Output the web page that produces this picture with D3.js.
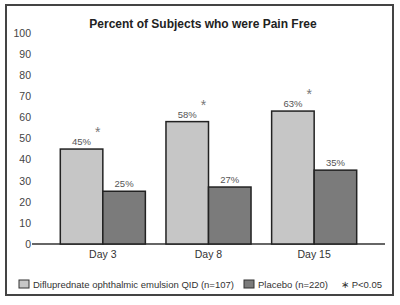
<!DOCTYPE html>
<html>
<head>
<meta charset="utf-8">
<script src="https://cdn.jsdelivr.net/npm/d3@7"></script>
<style>
  body { margin: 0; background: #fff; }
  text { font-family: "Liberation Sans", Arial, sans-serif; }
</style>
</head>
<body>
<div id="chart"></div>
<script>
// chart data
var days = ["Day 3", "Day 8", "Day 15"];
var seriesNames = ["Difluprednate ophthalmic emulsion QID (n=107)", "Placebo (n=220)"];
var drugValues = [45, 58, 63];
var placeboValues = [25, 27, 35];
var significant = [true, true, true];
var yTicks = [0, 10, 20, 30, 40, 50, 60, 70, 80, 90, 100];
var colors = ["#c6c6c6", "#7b7b7b"];

var width = 400, height = 305;

var svg = d3.select("#chart").append("svg")
    .attr("width", width)
    .attr("height", height);

// outer frame
svg.append("rect")
    .attr("x", 6)
    .attr("y", 5)
    .attr("width", 387)
    .attr("height", 290)
    .attr("fill", "#fff")
    .attr("stroke", "#444")
    .attr("stroke-width", 2);

// title
svg.append("text")
    .attr("x", 203)
    .attr("y", 28)
    .attr("text-anchor", "middle")
    .style("font-size", "12px")
    .style("font-weight", "bold")
    .attr("fill", "#222")
    .text("Percent of Subjects who were Pain Free");

// scales
var x0 = d3.scaleBand()
    .domain(days)
    .range([50, 367])
    .paddingInner(0.195)
    .paddingOuter(0.0975);

var x1 = d3.scaleBand()
    .domain([0, 1])
    .range([0, x0.bandwidth()]);

var y = d3.scaleLinear()
    .domain([0, 100])
    .range([244, 33]);

// y axis labels (no axis line)
var yAxis = svg.append("g")
    .attr("transform", "translate(32,0)")
    .call(d3.axisLeft(y).tickValues(yTicks).tickSize(0).tickPadding(1));
yAxis.select(".domain").remove();
yAxis.selectAll("text")
    .style("font-size", "10.5px")
    .attr("fill", "#444");

// baseline
svg.append("line")
    .attr("x1", 32)
    .attr("x2", 385)
    .attr("y1", y(0))
    .attr("y2", y(0))
    .attr("stroke", "#333")
    .attr("stroke-width", 1.3);

// bars
var groups = svg.selectAll("g.group")
    .data(days)
    .enter().append("g")
    .attr("class", "group")
    .attr("transform", function(d) { return "translate(" + x0(d) + ",0)"; });

groups.each(function(d, i) {
    var g = d3.select(this);
    var vals = [drugValues[i], placeboValues[i]];
    vals.forEach(function(v, j) {
        g.append("rect")
            .attr("x", x1(j))
            .attr("y", y(v))
            .attr("width", x1.bandwidth())
            .attr("height", y(0) - y(v))
            .attr("fill", colors[j])
            .attr("stroke", "#222")
            .attr("stroke-width", 1.5);
        g.append("text")
            .attr("x", x1(j) + x1.bandwidth() / 2)
            .attr("y", y(v) - 4)
            .attr("text-anchor", "middle")
            .style("font-size", "9.5px")
            .attr("fill", "#555")
            .text(v + "%");
    });
    if (significant[i]) {
        g.append("text")
            .attr("x", x0.bandwidth() / 2 - 5)
            .attr("y", y(drugValues[i]) - 12)
            .attr("text-anchor", "middle")
            .style("font-size", "14px")
            .attr("fill", "#777")
            .text("*");
    }
});

// x labels
svg.selectAll("text.xlabel")
    .data(days)
    .enter().append("text")
    .attr("class", "xlabel")
    .attr("x", function(d) { return x0(d) + x0.bandwidth() / 2; })
    .attr("y", 258)
    .attr("text-anchor", "middle")
    .style("font-size", "10.5px")
    .attr("fill", "#333")
    .text(function(d) { return d; });

// legend
var legendX = [19, 244];
seriesNames.forEach(function(name, j) {
    svg.append("rect")
        .attr("x", legendX[j])
        .attr("y", 280)
        .attr("width", 10)
        .attr("height", 8)
        .attr("fill", colors[j])
        .attr("stroke", "#333")
        .attr("stroke-width", 1);
    svg.append("text")
        .attr("x", legendX[j] + 14)
        .attr("y", 287.5)
        .style("font-size", "9.5px")
        .attr("fill", "#333")
        .text(name);
});
svg.append("text")
    .attr("x", 341)
    .attr("y", 287.5)
    .style("font-size", "9.5px")
    .attr("fill", "#333")
    .text("\u2217 P<0.05");
</script>
</body>
</html>
